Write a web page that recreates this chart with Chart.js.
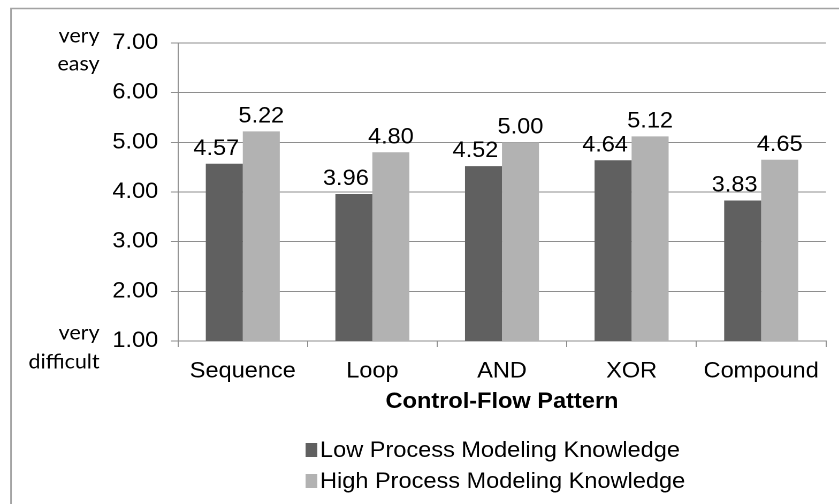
<!DOCTYPE html>
<html>
<head>
<meta charset="utf-8">
<script src="https://cdn.jsdelivr.net/npm/chart.js@4.4.0/dist/chart.umd.min.js"></script>
<style>
  html, body { margin: 0; padding: 0; background: #fff; overflow: hidden; }
  /* the reference text is slightly wide, so draw a bit narrower and stretch */
  #wrap {
    position: absolute; left: 0; top: 0;
    width: 784px; height: 504px;
    transform: scaleX(1.0702); transform-origin: 0 0;
  }
</style>
</head>
<body>
<div id="wrap"><canvas id="chart"></canvas></div>
<script>
// chart values
const categories = ["Sequence", "Loop", "AND", "XOR", "Compound"];
const lowKnowledge = [4.57, 3.96, 4.52, 4.64, 3.83];
const highKnowledge = [5.22, 4.80, 5.00, 5.12, 4.65];
const seriesNames = ["Low Process Modeling Knowledge", "High Process Modeling Knowledge"];
const yMin = 1, yMax = 7, yStep = 1;
const yTopLabel = ["very", "easy"];
const yBottomLabel = ["very", "difficult"];

const DARK = "#606060";
const LIGHT = "#b2b2b2";
const GRID = "#8e8e8e";
const ARIAL = "'Liberation Sans', Arial, sans-serif";

// frame, side labels, value labels and the legend
const decorations = {
    id: "decorations",
    afterDraw(chart) {
        const ctx = chart.ctx;
        const y = chart.scales.y;
        ctx.save();

        // outer frame (only top and left edges are visible in the reference)
        ctx.strokeStyle = "#a3a3a3";
        ctx.lineWidth = 1.5;
        ctx.beginPath();
        ctx.moveTo(10.3, chart.height);
        ctx.lineTo(10.3, 8.5);
        ctx.lineTo(chart.width, 8.5);
        ctx.stroke();

        // "very easy" / "very difficult"
        ctx.fillStyle = "#000";
        ctx.font = "20px Lato, sans-serif";
        ctx.textAlign = "right";
        ctx.textBaseline = "middle";
        const top = y.getPixelForValue(yMax);
        const bottom = y.getPixelForValue(yMin);
        ctx.fillText(yTopLabel[0], 93, top - 7);
        ctx.fillText(yTopLabel[1], 93, top + 21);
        ctx.fillText(yBottomLabel[0], 93, bottom - 8);
        ctx.fillText(yBottomLabel[1], 93, bottom + 21);

        // value labels above the bars
        ctx.font = "22px " + ARIAL;
        ctx.textAlign = "center";
        chart.data.datasets.forEach((ds, i) => {
            const meta = chart.getDatasetMeta(i);
            const shift = i === 0 ? -7.5 : 0;
            meta.data.forEach((bar, j) => {
                ctx.fillText(ds.data[j].toFixed(2), bar.x + shift, bar.y - 15);
            });
        });

        // legend, one entry per line
        ctx.textAlign = "left";
        chart.data.datasets.forEach((ds, i) => {
            const cy = 450 + i * 31;
            ctx.fillStyle = ds.backgroundColor;
            ctx.fillRect(285.5, cy - 7, 11, 14);
            ctx.fillStyle = "#000";
            ctx.fillText(ds.label, 299, cy + 1);
        });

        ctx.restore();
    }
};

new Chart(document.getElementById("chart"), {
    type: "bar",
    data: {
        labels: categories,
        datasets: [
            { label: seriesNames[0], data: lowKnowledge, backgroundColor: DARK },
            { label: seriesNames[1], data: highKnowledge, backgroundColor: LIGHT }
        ]
    },
    options: {
        responsive: true,
        maintainAspectRatio: false,
        devicePixelRatio: 2,
        animation: false,
        datasets: {
            bar: { barPercentage: 1, categoryPercentage: 0.571, borderWidth: 0 }
        },
        layout: { padding: { left: 0, right: 12.2, top: 43, bottom: 89 } },
        plugins: {
            legend: { display: false },
            tooltip: { enabled: false }
        },
        scales: {
            x: {
                afterFit(scale) { scale.height = 74; },
                grid: { display: true, drawOnChartArea: false, offset: true, tickLength: 6, color: GRID },
                border: { color: GRID, width: 1 },
                ticks: { color: "#000", font: { family: ARIAL, size: 22 }, padding: 11 },
                title: {
                    display: true,
                    text: "Control-Flow Pattern",
                    color: "#000",
                    font: { family: ARIAL, size: 22, weight: "bold" },
                    padding: { top: 4, bottom: 0 }
                }
            },
            y: {
                min: yMin,
                max: yMax,
                afterFit(scale) { scale.width = 166.3; },
                grid: { color: GRID, tickLength: 6.5 },
                border: { color: GRID, width: 1 },
                ticks: {
                    stepSize: yStep,
                    color: "#000",
                    padding: 12,
                    font: { family: ARIAL, size: 22 },
                    callback: v => v.toFixed(2)
                }
            }
        }
    },
    plugins: [decorations]
});
</script>
</body>
</html>
